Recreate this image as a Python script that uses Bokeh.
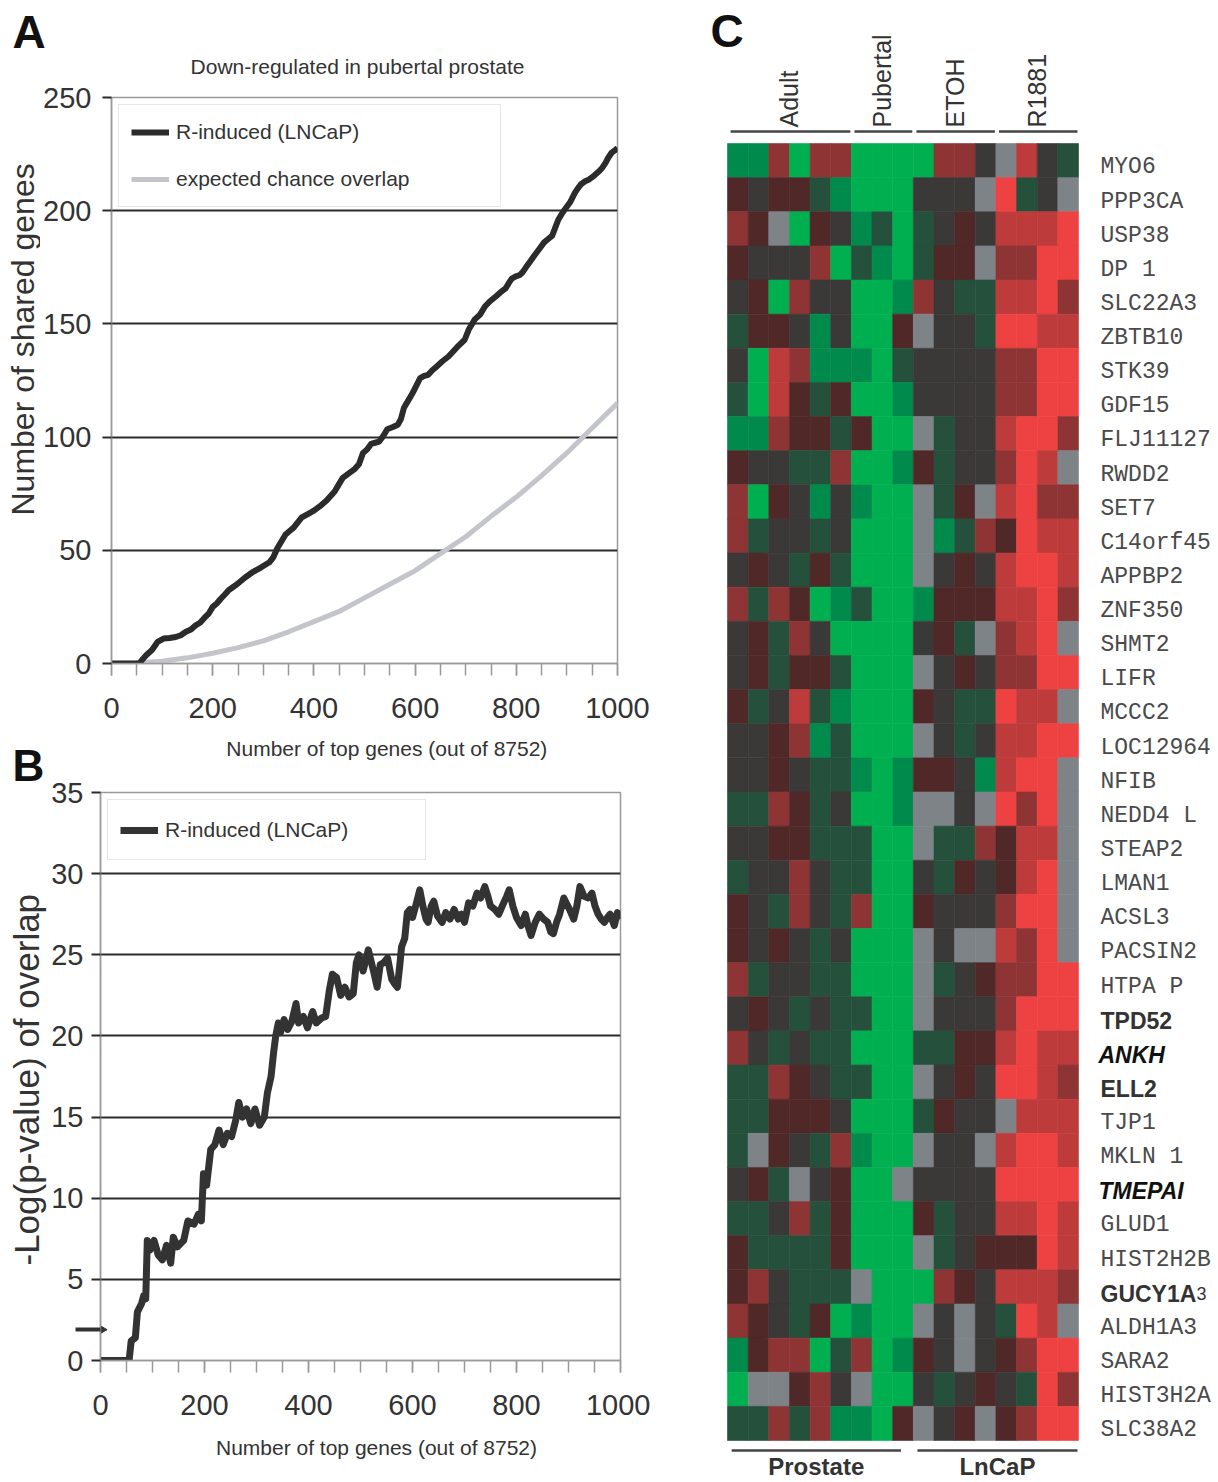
import numpy as np
from bokeh.plotting import figure
from bokeh.models import (ColumnDataSource, FixedTicker, Legend, LegendItem,
                          LinearColorMapper, Range1d)
from bokeh.layouts import row, column
from bokeh.transform import transform
from bokeh.core.properties import value
from bokeh.embed import file_html
from bokeh.resources import INLINE

SANS = "Liberation Sans"
MONO = "Liberation Mono"
INK = "#333333"
FRAME = "#9a9a9a"

# ---------------- Panel A data ----------------
a_title = "Down-regulated in pubertal prostate"
a_xlabel = "Number of top genes (out of 8752)"
a_ylabel = "Number of shared genes"
a_obs = [(0, 0), (55, 0), (62, 2), (70, 4), (80, 6), (91, 9.5), (103, 11), (115, 11.3), (127, 11.7),
         (137, 12.5), (147, 14), (157, 15), (167, 17), (175, 18), (183, 20), (192, 22), (200, 25),
         (208, 26.5), (216, 28.6), (224, 30.5), (232, 32.5), (248, 35), (264, 38), (280, 40.5),
         (296, 42.5), (312, 44.7), (320, 47), (328, 51), (336, 54), (344, 57), (352, 58.5), (360, 60),
         (376, 64.5), (388, 66), (400, 67.5), (412, 69.5), (425, 72), (433, 74), (441, 76), (449, 79),
         (457, 82), (469, 84), (481, 86), (489, 88), (497, 93), (505, 94.5), (513, 97), (521, 97.5),
         (529, 98), (537, 100.5), (545, 103.5), (556, 104.5), (566, 105.5), (572, 108), (578, 113),
         (586, 116), (594, 119), (602, 122.5), (610, 126), (618, 127), (626, 127.5), (634, 129.5),
         (642, 131), (654, 133.5), (666, 135.6), (682, 139.5), (698, 143), (706, 147.5), (718, 152),
         (728, 154), (738, 157.7), (748, 160), (759, 162), (769, 164), (779, 165.7), (785, 168),
         (791, 170), (799, 171), (807, 171.6), (813, 173), (819, 175), (827, 177.5), (835, 180),
         (845, 183), (855, 186), (863, 187.5), (871, 189), (877, 192.5), (883, 196), (891, 199),
         (899, 201.5), (907, 204), (916, 208), (922, 210), (928, 211.7), (936, 213), (944, 213.8),
         (954, 215.5), (964, 217.5), (970, 219), (976, 221), (982, 223.5), (988, 225.5), (994, 226.5),
         (1000, 227.7)]
a_exp_x = [0, 50, 100, 150, 200, 250, 300, 350, 400, 450, 500, 550, 600, 650, 700, 750, 800, 850, 900, 950, 1000]
a_exp_y = [0, 0.2, 1, 2.5, 4.5, 7, 10, 14, 18.5, 23, 29, 35, 41, 48.5, 56, 65, 73.5, 83, 93, 104, 115]
a_series = ["R-induced (LNCaP)", "expected chance overlap"]
a_yticks = [0, 50, 100, 150, 200, 250]

# ---------------- Panel B data ----------------
b_xlabel = "Number of top genes (out of 8752)"
b_ylabel = "-Log(p-value) of overlap"
b_obs = [(0, 0), (55, 0), (59, 1.2), (67, 1.4), (71, 3), (79, 3.5), (83, 4), (87, 3.8), (90, 7.4), (95, 6.8),
         (103, 7.4), (111, 6.5), (119, 6.2), (127, 7.1), (135, 6), (140, 7.6), (148, 7), (160, 7.4),
         (168, 8.6), (180, 8.4), (188, 9), (194, 8.6), (198, 11.5), (204, 10.8), (212, 13), (220, 13.3),
         (228, 14.2), (236, 13.3), (244, 14), (252, 13.8), (260, 14.8), (266, 15.9), (273, 15), (281, 15.5),
         (289, 14.6), (297, 15.5), (306, 14.5), (315, 15), (321, 16.5), (328, 17.5), (333, 19), (337, 20),
         (342, 20.8), (346, 20.2), (353, 21), (360, 20.4), (368, 20.9), (376, 22), (381, 20.8), (390, 21.2),
         (398, 20.5), (408, 21.5), (415, 20.8), (425, 21.1), (433, 21.2), (440, 22.8), (446, 23.8),
         (454, 23.6), (462, 22.5), (470, 23), (478, 22.4), (486, 22.6), (492, 24.5), (497, 25), (505, 24),
         (515, 25.3), (525, 24), (532, 23), (538, 24.4), (544, 24.5), (552, 24.8), (560, 23.5), (566, 23.2),
         (571, 23), (576, 24.5), (579, 25.5), (585, 26), (590, 27.6), (595, 27.8), (600, 27.3), (606, 28),
         (614, 29), (620, 28), (626, 27.2), (630, 27), (636, 28), (641, 28.3), (648, 27.4), (657, 27),
         (664, 27.6), (672, 27.2), (680, 27.8), (688, 27.2), (694, 27.5), (700, 27), (708, 28.2), (716, 28),
         (724, 28.8), (731, 28.5), (739, 29.2), (745, 28.6), (750, 28), (758, 27.8), (766, 27.5), (774, 28.1),
         (781, 28.6), (786, 29), (793, 28), (800, 27.3), (809, 26.8), (817, 27.5), (822, 26.8), (828, 26.2),
         (836, 27), (844, 27.5), (852, 27.2), (860, 27), (866, 26.4), (871, 26.3), (877, 27), (883, 27.5),
         (891, 28.5), (897, 28.1), (902, 27.8), (910, 27.2), (916, 28), (922, 29.2), (930, 28.6), (938, 28.5),
         (945, 28.8), (951, 28), (957, 27.5), (963, 27.2), (969, 27), (975, 27.3), (980, 27.5), (988, 26.8),
         (994, 27.6), (1000, 27.2)]
b_series = "R-induced (LNCaP)"
b_threshold = 1.9
b_yticks = [0, 5, 10, 15, 20, 25, 30, 35]
x_ticks = [0, 200, 400, 600, 800, 1000]
x_minor = list(range(0, 1001, 50))

# ---------------- Panel C data ----------------
genes = ["MYO6", "PPP3CA", "USP38", "DP 1", "SLC22A3", "ZBTB10", "STK39", "GDF15", "FLJ11127",
         "RWDD2", "SET7", "C14orf45", "APPBP2", "ZNF350", "SHMT2", "LIFR", "MCCC2", "LOC12964",
         "NFIB", "NEDD4 L", "STEAP2", "LMAN1", "ACSL3", "PACSIN2", "HTPA P", "TPD52", "ANKH",
         "ELL2", "TJP1", "MKLN 1", "TMEPAI", "GLUD1", "HIST2H2B", "GUCY1A3", "ALDH1A3", "SARA2",
         "HIST3H2A", "SLC38A2"]
gene_style = {"TPD52": "bold", "ANKH": "bold italic", "ELL2": "bold", "TMEPAI": "bold italic",
              "GUCY1A3": "bold3"}
# cell levels: G=-3 g=-2 d=-1 k=0 m=1 r=2 o=2.5 R=3 .=missing
cells = ["ggrGrrGGGGrrk.okd", "mkmmdgGGGkkk.Rdk.", "rm.GmkgdGdkmkoooR", "mkkkrGdgGdmm.rrRR",
         "kmGrkkGGgrkddooRr", "dmmkgkGGm.kkdRRoo", "kGorgggGdkkkkrrRR", "dGomdmGGgkkkkrrRR",
         "ggrmmdmGG.dkkoRRr", "mkkddrGGgmdkkrRo.", "rGmkgkgGG.dm.oRrr", "rdkkdkGGG.gdrmRoo",
         "kmkdmdGGG.kmkoRRo", "rdrmGgdGGgmmmooRr", "kmdrkGGGGkmd.roR.", "kmdmmdGGG.kmkrrRR",
         "mdkodgGGGmkddRoo.", "kkmrgdGGG.kdkooRR", "kkmkddgGgmmkgoRR.", "ddrmdkGGg..k.RrR.",
         "kkmmdddGG.ddrmoo.", "dkkrkddGGkdmkmoR.", "mkdrkdrGGmkkkrRR.", "mkmkdkGGG.k..orR.",
         "rdkkddGGG.dkmrrRR", "kmkdkddGG.kkkrRRR", "rkdkddGGGddmmoRoo", "ddrmkddGG.kmkRRor",
         "ddmmmkGGGdmkk.ooo", "d.mkdrgGG.kk.oRRo", "kmd.kmGG.kkkkRRRR", "ddkrdmGGGmdkkooRo",
         "mddddmGGG.dkmmmRo", "mrkddd.GGGrmkooor", "rmkdmGgGG.k.kdRo.", "gmrrGdrGgmk.kmrRR",
         "G..mrk.GGkdkmkdRr", "ddrdrggGm.km.mrRR"]
level_code = {"G": -3, "g": -2, "d": -1, "k": 0, "m": 1, "r": 2, "o": 2.5, "R": 3, ".": np.nan}
top_groups = [("Adult", 6), ("Pubertal", 3), ("ETOH", 4), ("R1881", 4)]
bottom_groups = [("Prostate", 9), ("LnCaP", 8)]


def band(w, h, bl=0, br=0, bt=0, bb=0):
    """A blank figure for outside texts; its data coordinates equal canvas pixels
    (x from the left, y from the bottom), whatever borders the layout gives it."""
    b = figure(width=w, height=h, title=None, x_range=Range1d(bl, w - br), y_range=Range1d(bb, h - bt),
               output_backend="svg", toolbar_location=None, x_axis_location=None,
               y_axis_location=None, min_border_left=bl, min_border_right=br,
               min_border_top=bt, min_border_bottom=bb)
    b.grid.visible = False
    b.outline_line_color = None
    return b


def put_text(b, x, py, txt, size, style="normal", align="center", baseline="middle", angle=0.0,
             color=INK):
    b.text(x=[x], y=[b.height - py], text=[txt], text_font=value(SANS), text_font_size=size,
           text_font_style=style, text_align=align, text_baseline=baseline, angle=angle,
           text_color=color)


def style_axes(p, yticks, gridticks):
    xa = p.xaxis[0]
    xa.ticker = FixedTicker(ticks=x_ticks, minor_ticks=x_minor)
    xa.axis_line_color = FRAME
    xa.axis_line_width = 1.5
    xa.major_tick_line_color = FRAME
    xa.minor_tick_line_color = FRAME
    xa.major_tick_line_width = 1.5
    xa.minor_tick_line_width = 1.5
    xa.major_tick_out = 12
    xa.major_tick_in = 0
    xa.minor_tick_out = 12
    xa.minor_tick_in = 0
    xa.major_label_text_font = SANS
    xa.major_label_text_font_size = "29px"
    xa.major_label_text_color = INK
    xa.major_label_standoff = 22
    ya = p.yaxis[0]
    ya.ticker = FixedTicker(ticks=yticks, minor_ticks=[])
    ya.axis_line_color = FRAME
    ya.axis_line_width = 1.5
    ya.major_tick_line_color = "#2b2b2b"
    ya.major_tick_line_width = 2
    ya.major_tick_out = 9
    ya.major_tick_in = 0
    ya.minor_tick_line_color = None
    ya.major_label_text_font = SANS
    ya.major_label_text_font_size = "29px"
    ya.major_label_text_color = INK
    ya.major_label_standoff = 11
    p.xgrid.visible = False
    p.ygrid.ticker = FixedTicker(ticks=gridticks)
    p.ygrid.grid_line_color = "#2b2b2b"
    p.ygrid.grid_line_width = 2
    p.outline_line_color = FRAME
    p.outline_line_width = 1.5


def style_legend(leg, label_width, label_height, spacing):
    leg.border_line_color = "#d0d0d0"
    leg.border_line_width = 1.5
    leg.background_fill_color = "white"
    leg.background_fill_alpha = 1
    leg.label_text_font = SANS
    leg.label_text_font_size = "21px"
    leg.label_text_color = INK
    leg.glyph_width = 38
    leg.glyph_height = 30
    leg.label_height = label_height
    leg.label_width = label_width
    leg.label_standoff = 7
    leg.padding = 12
    leg.spacing = spacing
    leg.margin = 7


TOP = 79      # top band height; panel A spans 79..735, panel B region 735..1428
A_BT, A_BB, A_BL, A_BR = 18, 72, 71, 33
B_BT, B_BB, B_BL, B_BR = 15, 68, 49, 30
SA, SB = 40, 48   # widths of the left text strips of A and B

# ---------------- top band (letter A + title) ----------------
topA = band(650, TOP)
put_text(topA, 12, 31, "A", "46px", style="bold", align="left", color="#111")
put_text(topA, 357, 66, a_title, "21px")

# ---------------- Figure A ----------------
stripA = band(SA, 656, bt=A_BT, bb=A_BB)
put_text(stripA, 22, 515 - TOP, a_ylabel, "32px", align="left", angle=np.pi / 2)
pA = figure(width=650 - SA, height=656, title=None, x_range=Range1d(0, 1000), y_range=Range1d(0, 250),
            output_backend="svg", toolbar_location=None,
            min_border_left=A_BL, min_border_right=A_BR, min_border_top=A_BT, min_border_bottom=A_BB)
style_axes(pA, a_yticks, [50, 100, 150, 200])
rA_exp = pA.line(a_exp_x, a_exp_y, line_color="#c3c5cb", line_width=5)
rA_obs = pA.line([p[0] for p in a_obs], [p[1] for p in a_obs], line_color="#2b2b2b", line_width=6,
                 line_join="round")
legA = Legend(items=[LegendItem(label=a_series[0], renderers=[rA_obs]),
                     LegendItem(label=a_series[1], renderers=[rA_exp])], location="top_left")
style_legend(legA, 312, 30, 17)
pA.add_layout(legA)

# ---------------- B region: left strip (letter B + y title), A x-title band, figure B ----------------
stripB = band(SB, 42 + 651)
put_text(stripB, 12, 765 - 735, "B", "44px", style="bold", align="left", color="#111")
put_text(stripB, 26, 1265 - 735, b_ylabel, "35px", align="left", angle=np.pi / 2)

mid = band(650 - SB, 42, bl=B_BL, br=B_BR)
put_text(mid, 385 - SB, 13, a_xlabel, "21px")

pB = figure(width=650 - SB, height=651, title=None, x_range=Range1d(0, 1000), y_range=Range1d(0, 35),
            output_backend="svg", toolbar_location=None,
            min_border_left=B_BL, min_border_right=B_BR, min_border_top=B_BT, min_border_bottom=B_BB)
style_axes(pB, b_yticks, [5, 10, 15, 20, 25, 30])
# significance arrow: a long minor tick on the y axis plus an arrow head at the frame edge
pB.yaxis[0].ticker = FixedTicker(ticks=b_yticks, minor_ticks=[b_threshold])
pB.yaxis[0].minor_tick_line_color = "#333333"
pB.yaxis[0].minor_tick_line_width = 4
pB.yaxis[0].minor_tick_out = 25
pB.yaxis[0].minor_tick_in = 0
pB.yaxis[0].major_label_standoff = -8
pB.scatter(x=[-4], y=[b_threshold], marker="triangle", angle=-np.pi / 2, size=15,
           fill_color="#333333", line_color="#333333")
rB = pB.line([p[0] for p in b_obs], [p[1] for p in b_obs], line_color="#333333", line_width=7,
             line_join="round")
legB = Legend(items=[LegendItem(label=b_series, renderers=[rB])], location="top_left")
style_legend(legB, 248, 35, 0)
pB.add_layout(legB)

# ---------------- bottom band (B x-title) ----------------
bot = band(650, 54)
put_text(bot, 376, 19, b_xlabel, "21px")

# ---------------- Figure C ----------------
ncol = len(cells[0])
nrow = len(genes)
CW = 351 / ncol
RH = 1297 / nrow
pC = figure(width=568, height=1482, title=None,
            x_range=Range1d(-77 / CW, ncol + 140 / CW), y_range=Range1d(-42 / RH, nrow + 143 / RH),
            output_backend="svg", toolbar_location=None, x_axis_location=None, y_axis_location=None,
            min_border=0)
pC.grid.visible = False
pC.outline_line_color = None

anchors = [(-3, "#00b050"), (-2, "#008a4c"), (-1, "#25503c"), (0, "#3b3838"),
           (1, "#512828"), (2, "#8e3434"), (3, "#ee4242")]


def _rgb(h):
    return [int(h[i:i + 2], 16) for i in (1, 3, 5)]


palette = []
for v in np.linspace(-3, 3, 241):
    for (l0, c0), (l1, c1) in zip(anchors[:-1], anchors[1:]):
        if l0 <= v <= l1:
            t = (v - l0) / (l1 - l0)
            a, b = _rgb(c0), _rgb(c1)
            palette.append("#%02x%02x%02x" % tuple(int(round(a[i] + (b[i] - a[i]) * t)) for i in range(3)))
            break
mapper = LinearColorMapper(palette=palette, low=-3, high=3, nan_color="#7e8388")

hx, hy, hv = [], [], []
for r, line in enumerate(cells):
    for c, ch in enumerate(line):
        hx.append(c + 0.5)
        hy.append(nrow - r - 0.5)
        hv.append(level_code[ch])
src = ColumnDataSource(dict(x=hx, y=hy, v=np.array(hv, dtype=float)))
pC.rect(x="x", y="y", width=1, height=1, source=src, fill_color=transform("v", mapper),
        line_color=transform("v", mapper), line_width=0.6)

label_x = ncol + 22 / CW
normal = [(g, nrow - i - 0.5 - 0.2) for i, g in enumerate(genes) if g not in gene_style]
pC.text(x=[label_x] * len(normal), y=[t[1] for t in normal], text=[t[0] for t in normal],
        text_font=value(MONO), text_font_size="23px", text_color="#4a4a4a",
        text_baseline="middle", text_align="left")
for i, g in enumerate(genes):
    if g in gene_style:
        st = gene_style[g]
        yy = nrow - i - 0.5 - 0.2
        if st == "bold3":
            pC.text(x=[label_x], y=[yy], text=[g[:-1]], text_font=value(SANS), text_font_style="bold",
                    text_font_size="23px", text_color="#333", text_baseline="middle")
            pC.text(x=[label_x], y=[yy], text=[g[-1]], text_font=value(SANS), x_offset=96,
                    text_font_size="18px", text_color="#333", text_baseline="middle")
        else:
            pC.text(x=[label_x - (2 / CW if "italic" in st else 0)], y=[yy], text=[g],
                    text_font=value(SANS), text_font_style=st, text_font_size="23px",
                    text_color="#111" if "italic" in st else "#333", text_baseline="middle")

start = 0
gx0, gx1, gcx, gname = [], [], [], []
for name, n in top_groups:
    gx0.append(start + 0.15)
    gx1.append(start + n - 0.05)
    gcx.append(start + n / 2)
    gname.append(name)
    start += n
line_y = nrow + 12 / RH
pC.segment(x0=gx0, y0=[line_y] * len(gx0), x1=gx1, y1=[line_y] * len(gx0), line_color="#444",
           line_width=2.5)
pC.text(x=gcx, y=[nrow + 16 / RH] * len(gcx), text=gname, angle=np.pi / 2, text_font=value(SANS),
        text_font_size="25px", text_color=INK, text_align="left", text_baseline="middle")

start = 0
bx0, bx1, bcx, bname = [], [], [], []
for k, (name, n) in enumerate(bottom_groups):
    a0 = start + 0.2
    a1 = start + n - (0.6 if k == 0 else 0.05)
    bx0.append(a0)
    bx1.append(a1)
    bcx.append((a0 + a1) / 2)
    bname.append(name)
    start += n
pC.segment(x0=bx0, y0=[-10 / RH] * 2, x1=bx1, y1=[-10 / RH] * 2, line_color="#444", line_width=2.5)
pC.text(x=bcx, y=[-26 / RH] * 2, text=bname, text_font=value(SANS), text_font_style="bold",
        text_font_size="24px", text_color=INK, text_align="center", text_baseline="middle")
pC.text(x=[-17 / CW], y=[nrow + (143 - 30) / RH], text=["C"], text_font=value(SANS),
        text_font_style="bold", text_font_size="46px", text_color="#111", text_align="left",
        text_baseline="middle")

left_col = column(topA, row(stripA, pA), row(stripB, column(mid, pB)), bot)
layout = row(left_col, pC)
open("out.html", "w").write(file_html(layout, INLINE))
